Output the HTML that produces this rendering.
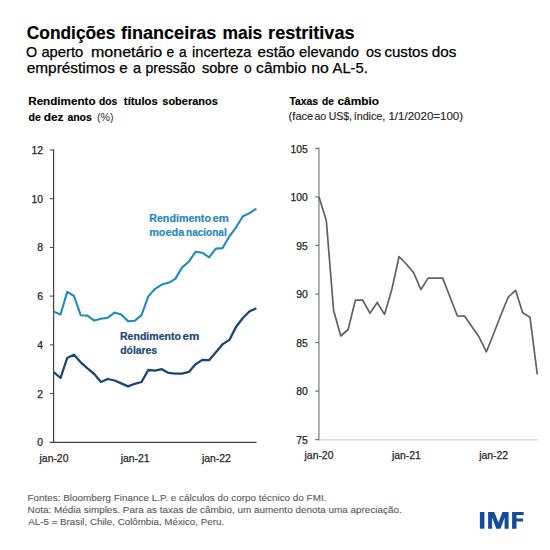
<!DOCTYPE html>
<html><head><meta charset="utf-8"><style>
html,body{margin:0;padding:0;background:#fff;width:550px;height:550px;overflow:hidden}
svg{display:block;font-family:"Liberation Sans", sans-serif}
</style></head><body>
<svg width="550" height="550" viewBox="0 0 550 550">
<rect width="550" height="550" fill="#fff"/>
<text x="26.81" y="38.5" font-size="17.8" font-weight="bold" fill="#000" stroke="#000" stroke-width="0.15" textLength="88.62" lengthAdjust="spacingAndGlyphs">Condições</text>
<text x="121.03" y="38.5" font-size="17.8" font-weight="bold" fill="#000" stroke="#000" stroke-width="0.15" textLength="95.2" lengthAdjust="spacingAndGlyphs">financeiras</text>
<text x="222.46" y="38.5" font-size="17.8" font-weight="bold" fill="#000" stroke="#000" stroke-width="0.15" textLength="39.82" lengthAdjust="spacingAndGlyphs">mais</text>
<text x="268.13" y="38.5" font-size="17.8" font-weight="bold" fill="#000" stroke="#000" stroke-width="0.15" textLength="86.41" lengthAdjust="spacingAndGlyphs">restritivas</text>
<text x="26.06" y="56.8" font-size="14.4" fill="#000" stroke="#000" stroke-width="0.25" textLength="11.13" lengthAdjust="spacingAndGlyphs">O</text>
<text x="41.41" y="56.8" font-size="14.4" fill="#000" stroke="#000" stroke-width="0.25" textLength="41.89" lengthAdjust="spacingAndGlyphs">aperto</text>
<text x="90.96" y="56.8" font-size="14.4" fill="#000" stroke="#000" stroke-width="0.25" textLength="71.32" lengthAdjust="spacingAndGlyphs">monetário</text>
<text x="166.55" y="56.8" font-size="14.4" fill="#000" stroke="#000" stroke-width="0.25" textLength="7.69" lengthAdjust="spacingAndGlyphs">e</text>
<text x="179.1" y="56.8" font-size="14.4" fill="#000" stroke="#000" stroke-width="0.25" textLength="7.66" lengthAdjust="spacingAndGlyphs">a</text>
<text x="192.05" y="56.8" font-size="14.4" fill="#000" stroke="#000" stroke-width="0.25" textLength="59.49" lengthAdjust="spacingAndGlyphs">incerteza</text>
<text x="257.59" y="56.8" font-size="14.4" fill="#000" stroke="#000" stroke-width="0.25" textLength="37.24" lengthAdjust="spacingAndGlyphs">estão</text>
<text x="299.01" y="56.8" font-size="14.4" fill="#000" stroke="#000" stroke-width="0.25" textLength="59.87" lengthAdjust="spacingAndGlyphs">elevando</text>
<text x="365.92" y="56.8" font-size="14.4" fill="#000" stroke="#000" stroke-width="0.25" textLength="15.2" lengthAdjust="spacingAndGlyphs">os</text>
<text x="384.4" y="56.8" font-size="14.4" fill="#000" stroke="#000" stroke-width="0.25" textLength="43.63" lengthAdjust="spacingAndGlyphs">custos</text>
<text x="431.79" y="56.8" font-size="14.4" fill="#000" stroke="#000" stroke-width="0.25" textLength="24.58" lengthAdjust="spacingAndGlyphs">dos</text>
<text x="26.68" y="73.2" font-size="14.4" fill="#000" stroke="#000" stroke-width="0.25" textLength="88.24" lengthAdjust="spacingAndGlyphs">empréstimos</text>
<text x="119.2" y="73.2" font-size="14.4" fill="#000" stroke="#000" stroke-width="0.25" textLength="8.4" lengthAdjust="spacingAndGlyphs">e</text>
<text x="132.92" y="73.2" font-size="14.4" fill="#000" stroke="#000" stroke-width="0.25" textLength="8.1" lengthAdjust="spacingAndGlyphs">a</text>
<text x="145.49" y="73.2" font-size="14.4" fill="#000" stroke="#000" stroke-width="0.25" textLength="49.81" lengthAdjust="spacingAndGlyphs">pressão</text>
<text x="201.96" y="73.2" font-size="14.4" fill="#000" stroke="#000" stroke-width="0.25" textLength="36.52" lengthAdjust="spacingAndGlyphs">sobre</text>
<text x="243.99" y="73.2" font-size="14.4" fill="#000" stroke="#000" stroke-width="0.25" textLength="7.64" lengthAdjust="spacingAndGlyphs">o</text>
<text x="256.08" y="73.2" font-size="14.4" fill="#000" stroke="#000" stroke-width="0.25" textLength="50.33" lengthAdjust="spacingAndGlyphs">câmbio</text>
<text x="311.27" y="73.2" font-size="14.4" fill="#000" stroke="#000" stroke-width="0.25" textLength="17.6" lengthAdjust="spacingAndGlyphs">no</text>
<text x="332.6" y="73.2" font-size="14.4" fill="#000" stroke="#000" stroke-width="0.25" textLength="35.2" lengthAdjust="spacingAndGlyphs">AL-5.</text>
<text x="28.24" y="105" font-size="10.8" font-weight="bold" fill="#000" stroke="#000" stroke-width="0.15" textLength="67.26" lengthAdjust="spacingAndGlyphs">Rendimento</text>
<text x="99.01" y="105" font-size="10.8" font-weight="bold" fill="#000" stroke="#000" stroke-width="0.15" textLength="18.31" lengthAdjust="spacingAndGlyphs">dos</text>
<text x="123.89" y="105" font-size="10.8" font-weight="bold" fill="#000" stroke="#000" stroke-width="0.15" textLength="33.86" lengthAdjust="spacingAndGlyphs">títulos</text>
<text x="162.32" y="105" font-size="10.8" font-weight="bold" fill="#000" stroke="#000" stroke-width="0.15" textLength="55.45" lengthAdjust="spacingAndGlyphs">soberanos</text>
<text x="28.58" y="121.2" font-size="10.8" font-weight="bold" fill="#000" stroke="#000" stroke-width="0.15" textLength="12.31" lengthAdjust="spacingAndGlyphs">de</text>
<text x="43.68" y="121.2" font-size="10.8" font-weight="bold" fill="#000" stroke="#000" stroke-width="0.15" textLength="19.81" lengthAdjust="spacingAndGlyphs">dez</text>
<text x="67.39" y="121.2" font-size="10.8" font-weight="bold" fill="#000" stroke="#000" stroke-width="0.15" textLength="24.42" lengthAdjust="spacingAndGlyphs">anos</text>
<text x="97.07" y="121.2" font-size="10.8" fill="#404040" stroke="#404040" stroke-width="0.1" textLength="16.42" lengthAdjust="spacingAndGlyphs">(%)</text>
<text x="289.4" y="105" font-size="10.8" font-weight="bold" fill="#000" stroke="#000" stroke-width="0.15" textLength="28.63" lengthAdjust="spacingAndGlyphs">Taxas</text>
<text x="322.07" y="105" font-size="10.8" font-weight="bold" fill="#000" stroke="#000" stroke-width="0.15" textLength="11.84" lengthAdjust="spacingAndGlyphs">de</text>
<text x="337.53" y="105" font-size="10.8" font-weight="bold" fill="#000" stroke="#000" stroke-width="0.15" textLength="41.46" lengthAdjust="spacingAndGlyphs">câmbio</text>
<text x="288.64" y="119.6" font-size="10.8" fill="#262626" stroke="#262626" stroke-width="0.15" textLength="24.6" lengthAdjust="spacingAndGlyphs">(face</text>
<text x="314.48" y="119.6" font-size="10.8" fill="#262626" stroke="#262626" stroke-width="0.15" textLength="11.77" lengthAdjust="spacingAndGlyphs">ao</text>
<text x="328.82" y="119.6" font-size="10.8" fill="#262626" stroke="#262626" stroke-width="0.15" textLength="23.2" lengthAdjust="spacingAndGlyphs">US$,</text>
<text x="353.7" y="119.6" font-size="10.8" fill="#262626" stroke="#262626" stroke-width="0.15" textLength="31.62" lengthAdjust="spacingAndGlyphs">índice,</text>
<text x="388.44" y="119.6" font-size="10.8" fill="#262626" stroke="#262626" stroke-width="0.15" textLength="74.69" lengthAdjust="spacingAndGlyphs">1/1/2020=100)</text>
<line x1="53.6" y1="149.5" x2="53.6" y2="442.9" stroke="#404040" stroke-width="1.2"/>
<line x1="49.8" y1="442.3" x2="256.6" y2="442.3" stroke="#404040" stroke-width="1.2"/>
<line x1="49.8" y1="150.0" x2="53.6" y2="150.0" stroke="#404040" stroke-width="1"/>
<text x="43" y="153.9" font-size="10.4" fill="#262626" text-anchor="end" stroke="#262626" stroke-width="0.25">12</text>
<line x1="49.8" y1="198.7" x2="53.6" y2="198.7" stroke="#404040" stroke-width="1"/>
<text x="43" y="202.6" font-size="10.4" fill="#262626" text-anchor="end" stroke="#262626" stroke-width="0.25">10</text>
<line x1="49.8" y1="247.4" x2="53.6" y2="247.4" stroke="#404040" stroke-width="1"/>
<text x="43" y="251.3" font-size="10.4" fill="#262626" text-anchor="end" stroke="#262626" stroke-width="0.25">8</text>
<line x1="49.8" y1="296.1" x2="53.6" y2="296.1" stroke="#404040" stroke-width="1"/>
<text x="43" y="300" font-size="10.4" fill="#262626" text-anchor="end" stroke="#262626" stroke-width="0.25">6</text>
<line x1="49.8" y1="344.9" x2="53.6" y2="344.9" stroke="#404040" stroke-width="1"/>
<text x="43" y="348.8" font-size="10.4" fill="#262626" text-anchor="end" stroke="#262626" stroke-width="0.25">4</text>
<line x1="49.8" y1="393.6" x2="53.6" y2="393.6" stroke="#404040" stroke-width="1"/>
<text x="43" y="397.5" font-size="10.4" fill="#262626" text-anchor="end" stroke="#262626" stroke-width="0.25">2</text>
<text x="43" y="446.2" font-size="10.4" fill="#262626" text-anchor="end" stroke="#262626" stroke-width="0.25">0</text>
<text x="54" y="461.5" font-size="10.4" fill="#262626" text-anchor="middle" stroke="#262626" stroke-width="0.25">jan-20</text>
<text x="135.2" y="461.5" font-size="10.4" fill="#262626" text-anchor="middle" stroke="#262626" stroke-width="0.25">jan-21</text>
<text x="216.4" y="461.5" font-size="10.4" fill="#262626" text-anchor="middle" stroke="#262626" stroke-width="0.25">jan-22</text>
<polyline points="53.7,311.6 60.5,314.5 67.2,291.9 74.0,296.0 80.7,315.2 87.5,315.6 94.2,320.6 101.0,318.8 107.8,317.7 114.5,312.6 121.3,314.5 128.0,321.3 134.8,320.8 141.5,315.1 148.3,296.4 155.1,288.8 161.8,284.6 168.6,282.8 175.3,278.9 182.1,267.4 188.8,261.7 195.6,251.8 202.3,252.7 209.1,257.3 215.9,248.6 222.6,248.1 229.4,236.3 236.1,227.3 242.9,216.3 249.6,213.1 256.4,208.6" fill="none" stroke="#1e8bc0" stroke-width="2.1" stroke-linejoin="round"/>
<polyline points="53.7,372.2 60.5,378.0 67.2,358.0 74.0,354.8 80.7,362.3 87.5,368.4 94.2,374.0 101.0,382.0 107.8,379.0 114.5,380.5 121.3,383.4 128.0,386.4 134.8,383.8 141.5,382.0 148.3,370.0 155.1,370.7 161.8,369.2 168.6,372.9 175.3,373.6 182.1,373.6 188.8,371.9 195.6,364.3 202.3,359.9 209.1,360.2 215.9,352.2 222.6,344.2 229.4,339.9 236.1,326.8 242.9,318.0 249.6,311.2 256.4,308.3" fill="none" stroke="#1a4476" stroke-width="2.3" stroke-linejoin="round"/>
<text x="149.21" y="221.6" font-size="10.4" font-weight="bold" fill="#2589be" stroke="#2589be" stroke-width="0.2" textLength="61.75" lengthAdjust="spacingAndGlyphs">Rendimento</text>
<text x="212.45" y="221.6" font-size="10.4" font-weight="bold" fill="#2589be" stroke="#2589be" stroke-width="0.2" textLength="16.33" lengthAdjust="spacingAndGlyphs">em</text>
<text x="149.19" y="235.9" font-size="10.4" font-weight="bold" fill="#2589be" stroke="#2589be" stroke-width="0.2" textLength="35.03" lengthAdjust="spacingAndGlyphs">moeda</text>
<text x="186.05" y="235.9" font-size="10.4" font-weight="bold" fill="#2589be" stroke="#2589be" stroke-width="0.2" textLength="40.62" lengthAdjust="spacingAndGlyphs">nacional</text>
<text x="120.01" y="339.6" font-size="10.4" font-weight="bold" fill="#1c4675" stroke="#1c4675" stroke-width="0.2" textLength="60.94" lengthAdjust="spacingAndGlyphs">Rendimento</text>
<text x="182.55" y="339.6" font-size="10.4" font-weight="bold" fill="#1c4675" stroke="#1c4675" stroke-width="0.2" textLength="16.84" lengthAdjust="spacingAndGlyphs">em</text>
<text x="120.29" y="354.1" font-size="10.4" font-weight="bold" fill="#1c4675" stroke="#1c4675" stroke-width="0.2" textLength="36.85" lengthAdjust="spacingAndGlyphs">dólares</text>
<line x1="537.8" y1="439.7" x2="318.9" y2="439.7" stroke="#d9d9d9" stroke-width="1.5"/>
<line x1="318.9" y1="147.8" x2="318.9" y2="440.4" stroke="#a6a6a6" stroke-width="1.8"/>
<line x1="315.2" y1="148.3" x2="318.9" y2="148.3" stroke="#5a5a5a" stroke-width="1"/>
<text x="307.9" y="152.5" font-size="10.4" fill="#262626" text-anchor="end" stroke="#262626" stroke-width="0.25">105</text>
<line x1="315.2" y1="196.9" x2="318.9" y2="196.9" stroke="#5a5a5a" stroke-width="1"/>
<text x="307.9" y="201.1" font-size="10.4" fill="#262626" text-anchor="end" stroke="#262626" stroke-width="0.25">100</text>
<line x1="315.2" y1="245.3" x2="318.9" y2="245.3" stroke="#5a5a5a" stroke-width="1"/>
<text x="307.9" y="249.5" font-size="10.4" fill="#262626" text-anchor="end" stroke="#262626" stroke-width="0.25">95</text>
<line x1="315.2" y1="294.1" x2="318.9" y2="294.1" stroke="#5a5a5a" stroke-width="1"/>
<text x="307.9" y="298.3" font-size="10.4" fill="#262626" text-anchor="end" stroke="#262626" stroke-width="0.25">90</text>
<line x1="315.2" y1="342.6" x2="318.9" y2="342.6" stroke="#5a5a5a" stroke-width="1"/>
<text x="307.9" y="346.8" font-size="10.4" fill="#262626" text-anchor="end" stroke="#262626" stroke-width="0.25">85</text>
<line x1="315.2" y1="391.1" x2="318.9" y2="391.1" stroke="#5a5a5a" stroke-width="1"/>
<text x="307.9" y="395.3" font-size="10.4" fill="#262626" text-anchor="end" stroke="#262626" stroke-width="0.25">80</text>
<line x1="315.2" y1="439.7" x2="318.9" y2="439.7" stroke="#5a5a5a" stroke-width="1"/>
<text x="307.9" y="443.9" font-size="10.4" fill="#262626" text-anchor="end" stroke="#262626" stroke-width="0.25">75</text>
<text x="319" y="458.8" font-size="10.4" fill="#262626" text-anchor="middle" stroke="#262626" stroke-width="0.25">jan-20</text>
<text x="406.4" y="458.8" font-size="10.4" fill="#262626" text-anchor="middle" stroke="#262626" stroke-width="0.25">jan-21</text>
<text x="493.7" y="458.8" font-size="10.4" fill="#262626" text-anchor="middle" stroke="#262626" stroke-width="0.25">jan-22</text>
<polyline points="319.0,197.1 326.3,220.5 333.6,310.5 340.8,336.0 348.1,329.5 355.4,300.1 362.7,300.1 369.9,313.2 377.2,302.5 384.5,314.4 391.8,289.5 399.0,256.7 406.3,264.0 413.6,272.7 420.9,289.5 428.1,278.1 435.4,278.1 442.7,278.1 450.0,297.0 457.3,315.8 464.5,316.1 471.8,326.5 479.1,337.1 486.4,351.8 493.6,333.8 500.9,315.0 508.2,297.2 515.5,290.3 522.7,312.7 530.0,317.3 537.3,374.5" fill="none" stroke="#606060" stroke-width="1.7" stroke-linejoin="round"/>
<text x="27.51" y="500.8" font-size="9.4" fill="#595959" stroke="#595959" stroke-width="0.1" textLength="298.88" lengthAdjust="spacingAndGlyphs">Fontes: Bloomberg Finance L.P. e cálculos do corpo técnico do FMI.</text>
<text x="27.51" y="512.8" font-size="9.4" fill="#595959" stroke="#595959" stroke-width="0.1" textLength="374.32" lengthAdjust="spacingAndGlyphs">Nota: Média simples. Para as taxas de câmbio, um aumento denota uma apreciação.</text>
<text x="28.3" y="525" font-size="9.4" fill="#595959" stroke="#595959" stroke-width="0.1" textLength="195.79" lengthAdjust="spacingAndGlyphs">AL-5 = Brasil, Chile, Colômbia, México, Peru.</text>
<g fill="#144c9b"><rect x="479.9" y="512" width="4.5" height="16.7"/><polygon points="488.1,528.7 488.1,512 494.3,512 498.4,522.6 502.5,512 508.6,512 508.6,528.7 504.6,528.7 504.6,517.6 500.5,528.7 496.3,528.7 492.1,517.6 492.1,528.7"/><polygon points="512.1,512 523.7,512 523.7,515.1 516.5,515.1 516.5,518.5 523.1,518.5 523.1,521.5 516.5,521.5 516.5,528.7 512.1,528.7"/></g>
</svg>
</body></html>
